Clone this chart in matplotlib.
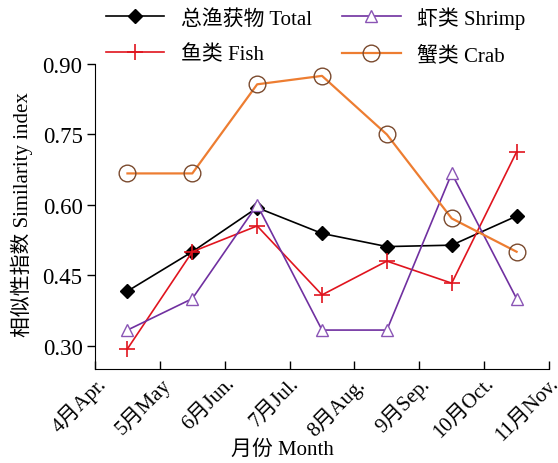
import matplotlib
matplotlib.use('Agg')
import matplotlib.pyplot as plt
import numpy as np

plt.rcParams['font.family'] = ['Liberation Serif', 'Noto Sans CJK SC']

# data
month_labels = ['4月Apr.', '5月May', '6月Jun.', '7月Jul.', '8月Aug.', '9月Sep.', '10月Oct.', '11月Nov.']
total = [0.416, 0.500, 0.594, 0.539, 0.511, 0.514, 0.576]
fish = [0.293, 0.500, 0.555, 0.408, 0.480, 0.433, 0.713]
shrimp = [0.333, 0.400, 0.600, 0.333, 0.333, 0.667, 0.400]
crab = [0.667, 0.667, 0.857, 0.875, 0.750, 0.571, 0.500]

fig = plt.figure(figsize=(5.58, 4.64), dpi=100)
ax = fig.add_axes([0.1703, 0.2026, 0.8136, 0.657])

# points sit between the month ticks
x = np.arange(len(total)) + 0.5
ax.plot(x, total, color='black', lw=1.2, marker='D', ms=7, mfc='black', mec='black',
        label='总渔获物 Total', clip_on=False)
ax.plot(x, fish, color='#e0141e', lw=1.2, marker='+', ms=11, mew=1.2,
        label='鱼类 Fish', clip_on=False)
ax.plot(x, shrimp, color='#7030a0', lw=1.2, marker='^', ms=9, mfc='white', mec='#8a55b5',
        label='虾类 Shrimp', clip_on=False)
ax.plot(x, crab, color='#ed7d31', lw=1.6, marker='o', ms=12, mfc='none', mec='#7a4a2e',
        mew=1.0, label='蟹类 Crab', clip_on=False)

ax.set_xlim(0, len(month_labels) - 1)
ax.set_xticks(np.arange(len(month_labels)))
ax.set_xticklabels(month_labels, rotation=45, ha='right', rotation_mode='anchor', fontsize=15)
ax.tick_params(axis='x', direction='in', length=6, width=1, pad=3)

ax.set_ylim(0.25, 0.90)
ax.set_yticks([0.30, 0.45, 0.60, 0.75, 0.90])
ax.set_yticklabels(['0.30', '0.45', '0.60', '0.75', '0.90'], fontsize=16.5)
ax.tick_params(axis='y', direction='out', length=6, width=1, pad=3)

ax.spines['top'].set_visible(False)
ax.spines['right'].set_visible(False)

ax.set_xlabel('月份 Month', fontsize=15, va='center')
ax.xaxis.set_label_coords(0.412, -0.262)
ax.set_ylabel('相似性指数 Similarity index', fontsize=15, va='center')
ax.yaxis.set_label_coords(-0.161, 0.51)

ax.legend(loc='upper left', bbox_to_anchor=(0.19, 0.985), bbox_transform=fig.transFigure,
          ncol=2, frameon=False, fontsize=15, handlelength=2.8, columnspacing=1.45,
          borderaxespad=0, borderpad=0, handletextpad=0.8, labelspacing=0.8)

fig.savefig('out.png', dpi=100)
